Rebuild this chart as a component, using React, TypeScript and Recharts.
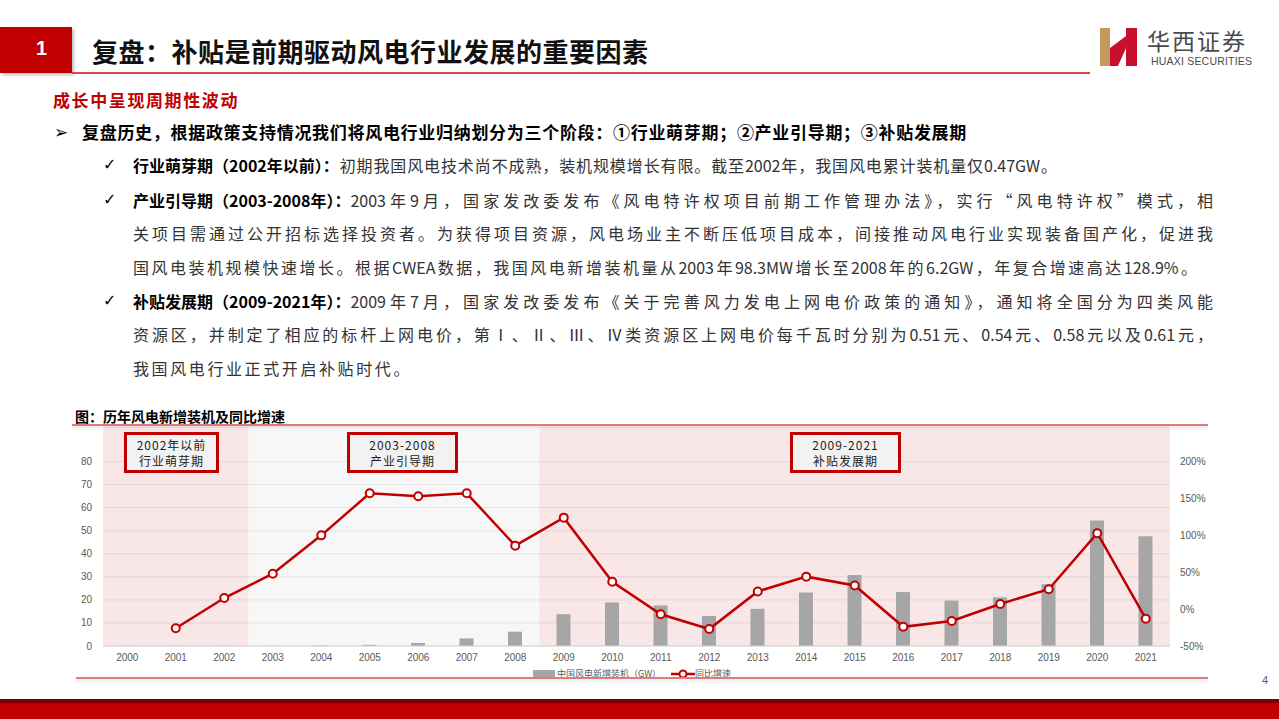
import { ComposedChart, Bar, Line, XAxis, YAxis, CartesianGrid, ReferenceArea, Legend } from "recharts";

// 年份
const years = ["2000", "2001", "2002", "2003", "2004", "2005", "2006", "2007", "2008", "2009", "2010",
    "2011", "2012", "2013", "2014", "2015", "2016", "2017", "2018", "2019", "2020", "2021"];
// 中国风电新增装机（GW）
const addedGW = [0.08, 0.06, 0.07, 0.1, 0.2, 0.5, 1.3, 3.3, 6.2, 13.8, 18.9,
    17.6, 13.0, 16.1, 23.2, 30.8, 23.4, 19.7, 21.1, 26.8, 54.4, 47.6];
// 同比增速（%）
const yoyPct = [null, -26, 15, 48, 100, 157, 153, 157, 86, 124, 37,
    -7, -27, 24, 44, 32, -24, -16, 7, 27, 103, -13];

const leftTicks = [0, 10, 20, 30, 40, 50, 60, 70, 80];
const rightTicks = [-50, 0, 50, 100, 150, 200];

// 阶段底色 (半透明, 让网格线透出来)
const stages = [
    { from: "2000", to: "2002", fill: "#f3cdcd" },
    { from: "2003", to: "2008", fill: "#efefef" },
    { from: "2009", to: "2021", fill: "#f3cdcd" },
];

const data = years.map((y, i) => ({ year: y, added: addedGW[i], yoy: yoyPct[i] }));

const RED = "#c00000";
const CJK = '"Noto Sans CJK SC", "Noto Sans", sans-serif';
const AX = '"Liberation Sans", Arial, sans-serif';

function LegendBox() {
    return (
        <div style={{ display: "flex", alignItems: "center", fontFamily: CJK, fontSize: 9, color: "#595959", whiteSpace: "nowrap" }}>
            <span style={{ display: "inline-block", width: 22, height: 7, background: "#a6a6a6", marginRight: 2 }} />
            <span>中国风电新增装机（GW）</span>
            <svg width={24} height={10} style={{ marginLeft: 10 }}>
                <line x1={0} y1={5} x2={24} y2={5} stroke={RED} strokeWidth={2.5} />
                <circle cx={12} cy={5} r={3.5} fill="#fff" stroke={RED} strokeWidth={2} />
            </svg>
            <span>同比增速</span>
        </div>
    );
}

function StageBox({ left, width, lines }: { left: number; width: number; lines: string[] }) {
    return (
        <div style={{
            position: "absolute", left, top: 432, width, height: 41, boxSizing: "border-box",
            border: `3px solid ${RED}`, background: "#f2f2f2", display: "flex", flexDirection: "column",
            alignItems: "center", justifyContent: "center", fontFamily: CJK, fontSize: 12, lineHeight: "16px",
            color: "#222", letterSpacing: 1,
        }}>
            {lines.map((l) => <div key={l}>{l}</div>)}
        </div>
    );
}

function TextLine({ top, width, bold, text, justify = true }: { top: number; width: number; bold?: string; text: string; justify?: boolean }) {
    return (
        <div style={{
            position: "absolute", left: 133, top: top - 11, width, fontFamily: CJK, fontSize: 16,
            lineHeight: "22px", color: "#333", textAlign: justify ? "justify" : "left",
            textAlignLast: justify ? "justify" : "auto", letterSpacing: justify ? 0 : 2.6,
        }}>
            {bold && <span style={{ display: "inline-block", fontWeight: 700, color: "#000" }}>{bold}</span>}
            {text}
        </div>
    );
}

function Check({ top }: { top: number }) {
    return <div style={{ position: "absolute", left: 103, top: top - 11, fontSize: 16, lineHeight: "22px", fontFamily: '"DejaVu Sans", sans-serif', color: "#000" }}>✓</div>;
}

export default function App() {
    return (
        <div style={{ position: "fixed", left: 0, top: 0, width: 1279, height: 719, background: "#fff", overflow: "hidden" }}>
            {/* header */}
            <div style={{ position: "absolute", left: 0, top: 27, width: 72, height: 46, background: RED, boxShadow: "2px 2px 3px rgba(0,0,0,0.25)" }} />
            <div style={{ position: "absolute", left: 36, top: 37, color: "#fff", fontFamily: AX, fontWeight: 700, fontSize: 20 }}>1</div>
            <div style={{ position: "absolute", left: 72, top: 72, width: 1018, height: 2, background: "#d64b4b" }} />
            <div style={{ position: "absolute", left: 92, top: 33, fontFamily: CJK, fontWeight: 700, fontSize: 26, lineHeight: "36px", letterSpacing: 0.5, color: "#111" }}>
                复盘：补贴是前期驱动风电行业发展的重要因素
            </div>
            {/* logo */}
            <svg style={{ position: "absolute", left: 1100, top: 28 }} width={40} height={40}>
                <rect x={0} y={0} width={10} height={38} fill="#c49a5a" />
                <polygon points="26,0 37,0 37,38 26,38" fill="#c8102e" />
                <polygon points="10,20 26,8 26,20 18,38 10,38" fill="#c8102e" />
            </svg>
            <div style={{ position: "absolute", left: 1147, top: 25, fontFamily: CJK, fontSize: 23, lineHeight: "30px", letterSpacing: 2, color: "#4a4a4a" }}>华西证券</div>
            <div style={{ position: "absolute", left: 1151, top: 54, fontFamily: AX, fontSize: 10.5, lineHeight: "14px", color: "#4a4a4a", letterSpacing: 0.2 }}>HUAXI SECURITIES</div>

            {/* body text */}
            <div style={{ position: "absolute", left: 53, top: 89, fontFamily: CJK, fontWeight: 700, fontSize: 17, lineHeight: "22px", letterSpacing: 1.6, color: RED }}>成长中呈现周期性波动</div>
            <div style={{ position: "absolute", left: 54, top: 121, fontFamily: '"DejaVu Sans", sans-serif', fontSize: 17, lineHeight: "22px", color: "#000" }}>➢</div>
            <div style={{ position: "absolute", left: 82, top: 121, fontFamily: CJK, fontWeight: 700, fontSize: 17, lineHeight: "22px", letterSpacing: 0.7, color: "#000" }}>
                复盘历史，根据政策支持情况我们将风电行业归纳划分为三个阶段：①行业萌芽期；②产业引导期；③补贴发展期
            </div>
            <Check top={165} />
            <TextLine top={165} width={924} bold="行业萌芽期（2002年以前）：" text="初期我国风电技术尚不成熟，装机规模增长有限。截至2002年，我国风电累计装机量仅0.47GW。" />
            <Check top={200} />
            <TextLine top={200} width={1080} bold="产业引导期（2003-2008年）：" text="2003年9月，国家发改委发布《风电特许权项目前期工作管理办法》，实行“风电特许权”模式，相" />
            <TextLine top={233} width={1080} text="关项目需通过公开招标选择投资者。为获得项目资源，风电场业主不断压低项目成本，间接推动风电行业实现装备国产化，促进我" />
            <TextLine top={267} width={1064} text="国风电装机规模快速增长。根据CWEA数据，我国风电新增装机量从2003年98.3MW增长至2008年的6.2GW，年复合增速高达128.9%。" />
            <Check top={301} />
            <TextLine top={301} width={1080} bold="补贴发展期（2009-2021年）：" text="2009年7月，国家发改委发布《关于完善风力发电上网电价政策的通知》，通知将全国分为四类风能" />
            <TextLine top={334} width={1080} text="资源区，并制定了相应的标杆上网电价，第Ⅰ、Ⅱ、Ⅲ、Ⅳ类资源区上网电价每千瓦时分别为0.51元、0.54元、0.58元以及0.61元，" />
            <TextLine top={368} width={300} justify={false} text="我国风电行业正式开启补贴时代。" />

            {/* chart title */}
            <div style={{ position: "absolute", left: 75, top: 406, fontFamily: CJK, fontWeight: 700, fontSize: 14, lineHeight: "20px", color: "#000" }}>图：历年风电新增装机及同比增速</div>
            <div style={{ position: "absolute", left: 72, top: 424, width: 1136, height: 2, background: "#e07a7a", boxShadow: "0 2px 3px rgba(0,0,0,0.12)" }} />

            <div style={{ position: "absolute", left: 40, top: 420 }}>
                <ComposedChart width={1200} height={260} data={data} margin={{ top: 7, right: 10, left: 0, bottom: 14 }}>
                    <CartesianGrid yAxisId="left" vertical={false} stroke="#d9d9d9" />
                    {stages.map((s) => (
                        <ReferenceArea key={s.from} yAxisId="left" x1={s.from} x2={s.to} fill={s.fill} fillOpacity={0.5} stroke="none" ifOverflow="visible" />
                    ))}
                    <XAxis dataKey="year" interval={0} tickLine={false} axisLine={{ stroke: "#d9d9d9" }} height={20}
                        tick={{ fontSize: 10, fill: "#595959", fontFamily: AX }} />
                    <YAxis yAxisId="left" domain={[0, 95]} ticks={leftTicks} width={63} axisLine={false} tickLine={false}
                        tickMargin={5} tick={{ fontSize: 10, fill: "#595959", fontFamily: AX }} />
                    <YAxis yAxisId="right" orientation="right" domain={[-50, 246.875]} ticks={rightTicks} width={60}
                        axisLine={false} tickLine={false} tickMargin={4} tickFormatter={(v) => `${v}%`}
                        tick={{ fontSize: 10, fill: "#595959", fontFamily: AX }} />
                    <Legend layout="horizontal" verticalAlign="middle" align="center" content={<LegendBox />}
                        wrapperStyle={{ left: 493, top: 247, width: "auto" }} />
                    <Bar yAxisId="left" dataKey="added" fill="#a6a6a6" barSize={14} isAnimationActive={false} />
                    <Line yAxisId="right" dataKey="yoy" stroke={RED} strokeWidth={2.5} isAnimationActive={false}
                        dot={{ r: 4, fill: "#fff", stroke: RED, strokeWidth: 2 }} activeDot={false} />
                </ComposedChart>
            </div>

            <StageBox left={124} width={95} lines={["2002年以前", "行业萌芽期"]} />
            <StageBox left={347} width={111} lines={["2003-2008", "产业引导期"]} />
            <StageBox left={790} width={111} lines={["2009-2021", "补贴发展期"]} />

            <div style={{ position: "absolute", left: 76, top: 677, width: 1132, height: 2, background: "#e07a7a", boxShadow: "0 2px 3px rgba(0,0,0,0.12)" }} />
            <div style={{ position: "absolute", left: 1262, top: 674, fontFamily: AX, fontSize: 11, color: "#595959" }}>4</div>
            <div style={{ position: "absolute", left: 0, top: 699, width: 1279, height: 4, background: "#7a0000" }} />
            <div style={{ position: "absolute", left: 0, top: 703, width: 1279, height: 16, background: RED }} />
        </div>
    );
}
